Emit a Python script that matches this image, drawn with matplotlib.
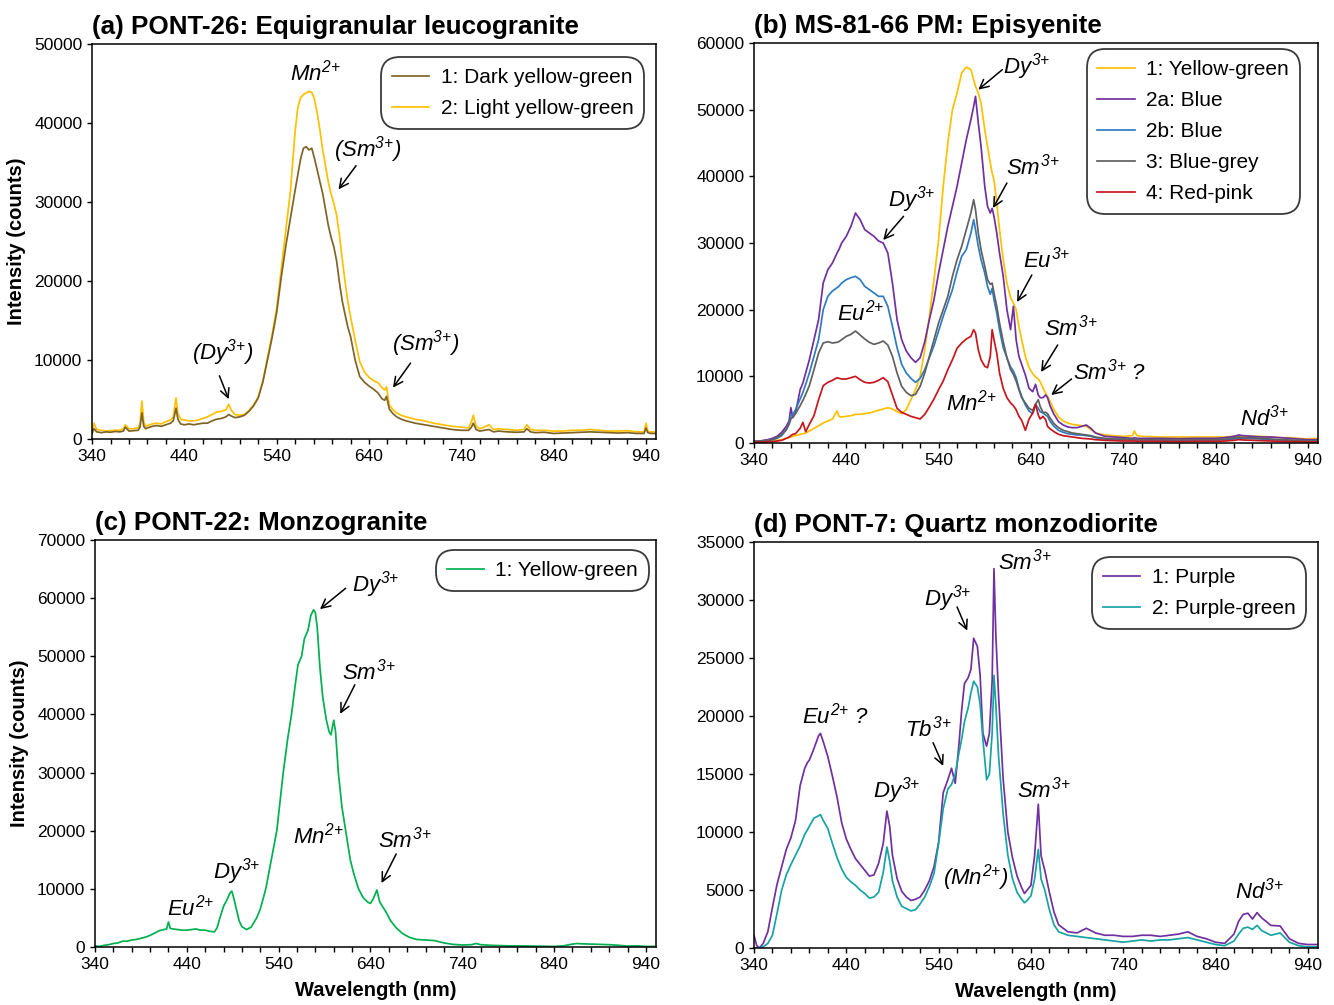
import numpy as np
import matplotlib
matplotlib.use("Agg")
import matplotlib.pyplot as plt
from matplotlib.ticker import MultipleLocator, FixedLocator

plt.rcParams['font.family'] = ['Liberation Sans', 'DejaVu Sans']
plt.rcParams['mathtext.fontset'] = 'custom'
plt.rcParams['mathtext.it'] = 'Liberation Sans:italic'
plt.rcParams['mathtext.rm'] = 'Liberation Sans:italic'
plt.rcParams['mathtext.bf'] = 'Liberation Sans:bold'

# ---------------- (a) PONT-26 ----------------
wl_a = [340, 342, 345, 350, 355, 360, 365, 370, 374, 376,
        380, 385, 390, 392, 394, 396, 398, 400, 405, 410,
        415, 420, 425, 428, 431, 433, 436, 440, 445, 450,
        455, 460, 465, 470, 475, 480, 485, 488, 491, 495,
        500, 505, 510, 515, 520, 525, 530, 535, 540, 545,
        550, 555, 560, 563, 566, 569, 572, 575, 578, 581,
        584, 587, 590, 593, 596, 599, 602, 605, 608, 611,
        614, 617, 620, 625, 630, 635, 640, 645, 650, 654,
        657, 659, 662, 666, 670, 675, 680, 690, 700, 710,
        720, 730, 740, 748, 751, 753, 756, 760, 765, 770,
        775, 780, 790, 800, 808, 811, 815, 820, 830, 840,
        850, 860, 870, 880, 890, 900, 910, 920, 930, 938,
        940, 942, 945, 950]
dark_a = [700, 1300, 900, 800, 900, 850, 950, 900, 1000, 1500,
          1000, 1050, 1100, 1500, 3300, 1600, 1300, 1400, 1600, 1700,
          1600, 1800, 2000, 2300, 3900, 2500, 1900, 1800, 1900, 1800,
          1900, 2000, 2000, 2300, 2500, 2600, 2800, 3100, 2900, 2700,
          2800, 3000, 3500, 4200, 5200, 7200, 10000, 12800, 16000, 20500,
          24500, 28000, 31500, 33500, 35500, 36800, 37000, 36600, 36800, 35500,
          34000, 32500, 31000, 29000, 27000, 25500, 24300, 22500, 19800, 17500,
          15800, 14200, 13000, 10000, 7900, 7200, 6700, 6300, 5800, 5100,
          4900, 5400, 3800, 3200, 2800, 2500, 2300, 2000, 1800, 1600,
          1400, 1200, 1100, 1100, 1500, 2000, 1200, 1000, 1100, 1200,
          900, 1000, 900, 850, 900, 1300, 900, 800, 850, 700,
          750, 800, 850, 900, 850, 800, 750, 800, 700, 700,
          1400, 800, 700, 700]
light_a = [900, 2000, 1200, 1100, 1000, 1050, 1100, 1100, 1300, 1800,
           1300, 1300, 1400, 2000, 4800, 2200, 1600, 1700, 1900, 2000,
           1900, 2200, 2400, 2800, 5200, 3200, 2500, 2400, 2300, 2300,
           2400, 2600, 2800, 3100, 3400, 3500, 3700, 4400, 3600, 3100,
           3000, 3100, 3600, 4300, 5300, 7300, 10200, 13200, 16500, 21500,
           26500, 31500, 39000, 42000, 43200, 43600, 43800, 44000, 43900, 43000,
           41200, 39000, 36500, 34500, 32500, 31000, 29800, 28300, 25800, 22800,
           20000, 17500, 15500, 12500, 9800, 8500, 7800, 7400, 7100, 6500,
           6200, 6600, 4300, 3700, 3300, 3000, 2800, 2500, 2300, 2000,
           1800, 1600, 1500, 1400, 2200, 3000, 1600, 1300, 1500, 1800,
           1200, 1300, 1200, 1100, 1200, 1800, 1200, 1100, 1100, 1000,
           1000, 1100, 1100, 1200, 1100, 1000, 1000, 1050, 900, 900,
           2000, 1000, 900, 900]

# ---------------- (b) MS-81-66 PM ----------------
wl_b = [340, 345, 350, 355, 360, 365, 370, 375, 378, 380,
        382, 385, 390, 393, 396, 400, 405, 410, 415, 420,
        425, 430, 432, 435, 440, 445, 450, 455, 460, 465,
        470, 475, 480, 485, 490, 495, 500, 505, 510, 515,
        520, 525, 530, 535, 540, 545, 550, 555, 560, 565,
        570, 575, 578, 580, 583, 586, 590, 593, 596, 598,
        600, 603, 606, 610, 614, 618, 621, 624, 627, 630,
        634, 638, 642, 645, 648, 650, 653, 656, 658, 661,
        665, 670, 675, 680, 685, 690, 695, 700, 705, 710,
        720, 730, 740, 750, 752, 755, 760, 780, 800, 820,
        840, 850, 860, 865, 870, 880, 890, 900, 910, 920,
        930, 940, 950]
yellow_b = [200, 300, 150, 300, 250, 400, 500, 700, 800, 900,
            1000, 1100, 1300, 1400, 1500, 1800, 2200, 2600, 3000, 3300,
            3600, 4800, 4000, 3900, 4000, 4100, 4300, 4300, 4400, 4500,
            4700, 4900, 5100, 5300, 5100, 4700, 4400, 5000, 6500, 8000,
            10000, 14000, 19000, 24500, 30500, 38500, 45000, 50000, 52500, 55500,
            56400, 56000, 54500, 53500, 52500, 51000, 47000, 44500, 42000, 40500,
            39500, 36000, 32000, 27500, 24000, 21800, 21000, 20000, 17500, 15500,
            13000, 11300, 10400, 9900, 9600, 9200, 8300, 7400, 7000, 6200,
            5000, 3900, 3300, 3000, 2800, 2700, 2600, 2500, 2000, 1500,
            1200, 1100, 1000, 1100, 1800, 1100, 1000, 900, 900, 900,
            900, 900, 1000, 1100, 1000, 1000, 1000, 900, 800, 800,
            700, 600, 700]
purple_b = [300, 200, 400, 500, 700, 1000, 1600, 2500, 3300, 5300,
            3800, 4500, 8000, 9000, 10500, 12500, 15500, 18500, 24000, 26000,
            27000, 28500, 29000, 30000, 31000, 32500, 34500, 33500, 32000, 31500,
            31000, 30300, 30000, 28500, 24000, 18500, 15500, 13800, 12800, 12100,
            12800, 15200, 18500, 21500, 25500, 29000, 32500, 35500, 38500, 42000,
            45500, 48500, 50500, 52000, 48000, 44500, 38500, 35500, 34500, 35200,
            34000, 31500, 28500, 25000, 20000, 17000, 20500, 15500, 13000, 11800,
            10200, 8200, 7700, 8800, 7200, 6800, 6800, 7200, 6800, 5500,
            4300, 3200, 2700, 2400, 2300, 2300, 2500, 2700, 2200, 1500,
            1000, 900, 800, 700, 800, 700, 700, 700, 650, 700,
            700, 800, 1000, 1200, 1100, 1000, 900, 900, 800, 700,
            600, 500, 500]
blue_b = [200, 300, 300, 400, 500, 700, 1100, 2000, 3000, 4100,
          4300, 5000, 6600, 7600, 8800, 10500, 13000, 15500, 20000, 22000,
          22800, 23300, 23500, 24000, 24500, 24800, 25000, 24500, 23500, 23000,
          22500, 22000, 22000, 20500, 17500, 14300, 11800, 10500, 9700, 9100,
          9700, 11000, 12800, 14600, 16800, 19000, 21000, 23000, 25700, 28000,
          29000, 31500, 33500, 32000, 29500, 27500, 25500, 23500, 22300, 23200,
          21500, 19500, 17000, 14300, 12800, 11400, 10800, 9800, 8200, 7000,
          5700, 4800, 4400, 5800, 5200, 4700, 4500, 4200, 4000, 3200,
          2500, 1900, 1600, 1400, 1300, 1200, 1200, 1100, 1000, 800,
          600, 500, 500, 500, 500, 500, 450, 450, 400, 450,
          450, 500, 600, 700, 700, 650, 600, 500, 450, 400,
          350, 300, 300]
grey_b = [200, 300, 300, 400, 500, 800, 1300, 2000, 2800, 3600,
          3900, 4400, 5600, 6400, 7300, 8600, 11000, 13500, 15000, 15200,
          15000, 15100, 15200, 15500, 16000, 16300, 16800, 16200, 15600, 15100,
          14800, 15000, 15300, 14700, 13000, 10500, 8500, 7600, 7100, 7300,
          8500, 10500, 13000, 15500, 18000, 20000, 22000, 25000, 27500, 29500,
          32000, 34500, 36500, 35000, 31500, 29000, 26500, 24500, 23800, 24000,
          22500, 20500, 18000, 15200, 12800, 11000, 10300, 9300, 8000, 6800,
          6000, 5200, 4900, 5800, 6500, 5500, 4600, 4600, 4400, 3700,
          2900, 2300, 1900, 1700, 1500, 1400, 1300, 1200, 1100, 900,
          700, 600, 600, 550, 550, 500, 500, 500, 450, 500,
          500, 600, 800, 900, 800, 800, 700, 600, 500, 450,
          400, 350, 300]
red_b = [100, 150, 100, 200, 200, 300, 400, 700, 900, 1100,
         1300, 1400, 2200, 3100, 1700, 2800, 4100, 6500, 8600, 9100,
         9400, 9800, 9700, 9600, 9600, 9800, 10000, 9500, 9100, 9000,
         9100, 9400, 9800, 9200, 7200, 5200, 4600, 4300, 4000, 3800,
         3600, 4300, 5400, 6600, 8000, 9300, 11000, 12500, 14200, 15000,
         15600, 16000, 17000, 16500, 14000, 12500, 11500, 11300, 13000, 17000,
         15500, 13500, 10500, 8200, 6800, 6000, 5600, 5000, 4000, 3400,
         1900, 3600, 4500, 5800, 4200, 3600, 4000, 3500, 2500, 2100,
         1700, 1300, 1100, 1000, 900, 800, 700, 650, 600, 500,
         400, 350, 300, 300, 300, 250, 250, 250, 200, 250,
         250, 300, 400, 500, 450, 400, 350, 300, 250, 200,
         200, 150, 150]

# ---------------- (c) PONT-22 ----------------
wl_c = [340, 345, 350, 355, 360, 365, 370, 375, 380, 385,
        390, 395, 400, 405, 410, 415, 418, 420, 422, 425,
        430, 435, 440, 445, 450, 455, 460, 465, 470, 473,
        476, 480, 484, 487, 489, 491, 494, 497, 500, 505,
        510, 516, 520, 526, 532, 538, 545, 550, 554, 558,
        561, 565, 568, 572, 575, 578, 580, 582, 585, 588,
        592, 595, 597, 600, 602, 605, 609, 613, 618, 622,
        627, 632, 637, 640, 643, 647, 650, 653, 657, 662,
        668, 675, 682, 690, 700, 710, 720, 730, 740, 750,
        755, 760, 770, 780, 790, 800, 820, 840, 850, 860,
        865, 870, 880, 890, 900, 910, 920, 930, 940, 950]
green_c = [200, 100, 300, 400, 600, 700, 1000, 1000, 1200, 1300,
           1500, 1700, 2000, 2400, 2800, 3000, 3100, 4300, 3200, 3100,
           3000, 2900, 2900, 3000, 3100, 2900, 2900, 2700, 2600, 3300,
           5000, 7000, 8200, 9300, 9600, 8500, 6500, 4500, 3500, 3000,
           3400, 5000, 6500, 10000, 15000, 20000, 30000, 36000, 40000, 45000,
           48500, 50000, 53000, 54500, 57000, 58000, 57500, 55000, 48000, 43000,
           39000, 37000, 36500, 39000, 37000, 30000, 24000, 20000, 15000, 12500,
           10000, 8500, 7700, 7500, 8300, 9800, 7800, 7000, 6000, 4500,
           3300, 2300, 1700, 1300, 1200, 1100, 700, 450, 350, 400,
           600, 400, 300, 250, 200, 200, 150, 100, 200, 500,
           600, 550, 500, 450, 400, 300, 150, 200, 100, 100]

# ---------------- (d) PONT-7 ----------------
wl_d = [340, 343, 346, 350, 355, 360, 365, 370, 375, 380,
        385, 390, 395, 398, 400, 405, 410, 412, 415, 420,
        425, 430, 435, 440, 445, 450, 455, 460, 465, 470,
        475, 480, 484, 487, 490, 495, 500, 505, 510, 515,
        520, 525, 530, 535, 540, 545, 550, 554, 558, 562,
        565, 568, 572, 575, 578, 582, 585, 588, 592, 595,
        598, 600, 602, 605, 610, 615, 620, 625, 630, 633,
        636, 640, 644, 648, 651, 655, 660, 665, 670, 680,
        690, 700, 710, 720, 730, 740, 750, 760, 770, 780,
        790, 800, 810, 820, 830, 840, 850, 860, 865, 870,
        875, 880, 885, 890, 900, 910, 920, 930, 940, 950]
purple_d = [1100, 200, 0, 400, 1400, 3500, 5500, 7000, 8500, 9500,
            11000, 14000, 15500, 16000, 16200, 17200, 18300, 18500, 17800, 16500,
            14800, 13000, 10800, 9400, 8500, 7700, 7200, 6700, 6200, 6300,
            7300, 9000, 11800, 10500, 8000, 6000, 4900, 4400, 4100, 4200,
            4400, 5000, 5800, 7000, 9100, 13400, 14500, 15500, 14200, 17500,
            20500, 22800, 23300, 24000, 26700, 26000, 23500, 18500, 17400, 18500,
            23000, 32700, 27000, 21700, 14500, 10000, 7800, 6200, 5200, 4700,
            5000, 5400, 7950, 12400, 7950, 6700, 4800, 3100, 2000, 1400,
            1300, 1700, 1300, 1100, 1100, 1000, 1000, 1100, 1100, 1000,
            1100, 1200, 1400, 1000, 800, 500, 400, 1200, 2300, 2900,
            3000, 2500, 3050, 2600, 1950, 1900, 800, 400, 300, 300]
teal_d = [0, 0, 0, 100, 400, 1100, 3000, 5000, 6300, 7200,
          8000, 8800, 9800, 10200, 10500, 11200, 11400, 11500, 11000, 10300,
          9000, 7800, 6800, 6100, 5700, 5400, 5000, 4700, 4300, 4400,
          4800, 6500, 8700, 7500, 5800, 4400, 3600, 3400, 3200, 3300,
          3800, 4400, 5300, 6400, 9000, 12000, 13700, 14100, 15000, 16800,
          18000, 19500, 20700, 22000, 23000, 22500, 21000, 18000, 14500, 15000,
          18500, 23500, 21000, 16500, 11500, 8000, 6000, 4800, 4200, 3900,
          4100, 4500, 5950, 8500, 5950, 5000, 3300, 2000, 1400, 1100,
          1000, 900, 800, 700, 600, 500, 600, 700, 600, 700,
          700, 800, 900, 700, 500, 300, 200, 600, 1200, 1700,
          1800, 1600, 1950, 1500, 1100, 1300, 500, 200, 100, 100]

xticks = [340, 440, 540, 640, 740, 840, 940]

# colours
c_dark = '#7f6428'
c_yellow = '#ffc000'
c_purple = '#7030a0'
c_blue = '#2e7bc4'
c_grey = '#606060'
c_red = '#c8161d'
c_green = '#00b050'
c_teal = '#17a3a3'

lw = 1.25
fig = plt.figure(figsize=(13.34, 10.05), dpi=100)
ax_a = fig.add_axes([0.0690, 0.5632, 0.4228, 0.3930])
ax_b = fig.add_axes([0.5652, 0.5592, 0.4228, 0.3980])
ax_c = fig.add_axes([0.0712, 0.0577, 0.4206, 0.4050])
ax_d = fig.add_axes([0.5652, 0.0567, 0.4228, 0.4040])


def setup(ax, ymax, ystep, title):
    ax.set_xlim(340, 951)
    ax.set_ylim(0, ymax)
    ax.xaxis.set_major_locator(FixedLocator(xticks))
    ax.xaxis.set_minor_locator(MultipleLocator(20))
    ax.yaxis.set_major_locator(MultipleLocator(ystep))
    ax.tick_params(which='both', direction='out', length=3.5, width=1,
                   labelsize=12.5, top=False, right=False)
    for s in ax.spines.values():
        s.set_linewidth(1.1)
    ax.set_title(title, loc='left', fontsize=18.7, fontweight='bold', pad=7)


def legend(ax, handles, x, y):
    leg = ax.legend(handles=handles, loc='upper right', bbox_to_anchor=(x, y),
                    fontsize=15, handlelength=1.8, handletextpad=0.55,
                    borderpad=0.52, labelspacing=0.58, framealpha=1,
                    borderaxespad=0)
    fr = leg.get_frame()
    fr.set_boxstyle('round', pad=0, rounding_size=0.9)
    fr.set_edgecolor('#3a3a3a')
    fr.set_linewidth(1.3)


def label(ax, txt, x, y, tail=None, tip=None):
    ax.text(x, y, txt, ha='center', va='center', style='italic', fontsize=16)
    if tail is not None:
        ax.annotate('', xy=tip, xytext=tail,
                    arrowprops=dict(arrowstyle='->', lw=1.1, color='black',
                                    shrinkA=0, shrinkB=0, mutation_scale=16))


# (a)
setup(ax_a, 50000, 10000, '(a) PONT-26: Equigranular leucogranite')
l2, = ax_a.plot(wl_a, light_a, color=c_yellow, lw=lw, label='2: Light yellow-green')
l1, = ax_a.plot(wl_a, dark_a, color=c_dark, lw=lw, label='1: Dark yellow-green')
legend(ax_a, [l1, l2], 0.979, 0.967)
ax_a.set_ylabel('Intensity (counts)', fontsize=14.5, fontweight='bold', labelpad=6)
label(ax_a, '$Mn^{2{+}}$', 582, 46400)
label(ax_a, '(Sm$^{3{+}}$)', 639, 36700, (626, 34600), (607, 31600))
label(ax_a, '(Dy$^{3{+}}$)', 481, 10900, (478, 8000), (488, 5040))
label(ax_a, '(Sm$^{3{+}}$)', 702, 12100, (685, 9600), (666, 6500))

# (b)
setup(ax_b, 60000, 10000, '(b) MS-81-66 PM: Episyenite')
hb = []
for vals, col, lab in [(yellow_b, c_yellow, '1: Yellow-green'),
                       (purple_b, c_purple, '2a: Blue'),
                       (blue_b, c_blue, '2b: Blue'),
                       (grey_b, c_grey, '3: Blue-grey'),
                       (red_b, c_red, '4: Red-pink')]:
    h, = ax_b.plot(wl_b, vals, color=col, lw=lw, label=lab)
    hb.append(h)
legend(ax_b, hb, 0.968, 0.985)
label(ax_b, '$Dy^{3{+}}$', 635, 56400, (609, 56000), (583, 53000))
label(ax_b, '$Dy^{3{+}}$', 511, 36450, (502, 34000), (480, 30450))
label(ax_b, '$Sm^{3{+}}$', 642, 41400, (614, 39000), (599, 35250))
label(ax_b, '$Eu^{3{+}}$', 657, 27450, (641, 25200), (625, 21150))
label(ax_b, '$Eu^{2{+}}$', 456, 19500)
label(ax_b, '$Sm^{3{+}}$', 683, 17250, (669, 14700), (651, 10650))
label(ax_b, '$Sm^{3{+}}$ ?', 725, 10650, (684, 9600), (662, 7200))
label(ax_b, '$Mn^{2{+}}$', 576, 6000)
label(ax_b, '$Nd^{3{+}}$', 893, 3750)

# (c)
setup(ax_c, 70000, 10000, '(c) PONT-22: Monzogranite')
hc, = ax_c.plot(wl_c, green_c, color=c_green, lw=lw, label='1: Yellow-green')
legend(ax_c, [hc], 0.9875, 0.975)
ax_c.set_ylabel('Intensity (counts)', fontsize=14.5, fontweight='bold', labelpad=6)
ax_c.set_xlabel('Wavelength (nm)', fontsize=14.5, fontweight='bold', labelpad=7)
label(ax_c, '$Dy^{3{+}}$', 646, 62400, (613, 61700), (585, 58100))
label(ax_c, '$Sm^{3{+}}$', 638, 47400, (623, 45100), (607, 40100))
label(ax_c, '$Mn^{2{+}}$', 583, 19100)
label(ax_c, '$Sm^{3{+}}$', 677, 18450, (668, 16000), (652, 11000))
label(ax_c, '$Dy^{3{+}}$', 494, 13000)
label(ax_c, '$Eu^{2{+}}$', 444, 6870)

# (d)
setup(ax_d, 35000, 5000, '(d) PONT-7: Quartz monzodiorite')
hd1, = ax_d.plot(wl_d, purple_d, color=c_purple, lw=lw, label='1: Purple')
hd2, = ax_d.plot(wl_d, teal_d, color=c_teal, lw=lw, label='2: Purple-green')
legend(ax_d, [hd1, hd2], 0.979, 0.963)
ax_d.set_xlabel('Wavelength (nm)', fontsize=14.5, fontweight='bold', labelpad=7)
label(ax_d, '$Sm^{3{+}}$', 633, 33300)
label(ax_d, '$Dy^{3{+}}$', 550, 30100, (560, 29400), (571, 27360))
label(ax_d, '$Eu^{2{+}}$ ?', 428, 20000)
label(ax_d, '$Tb^{3{+}}$', 529, 18900, (534, 17700), (545, 15700))
label(ax_d, '$Dy^{3{+}}$', 495, 13540)
label(ax_d, '$Sm^{3{+}}$', 654, 13680)
label(ax_d, '($Mn^{2{+}}$)', 580, 6100)
label(ax_d, '$Nd^{3{+}}$', 888, 4950)

fig.savefig('out.png', dpi=100)
